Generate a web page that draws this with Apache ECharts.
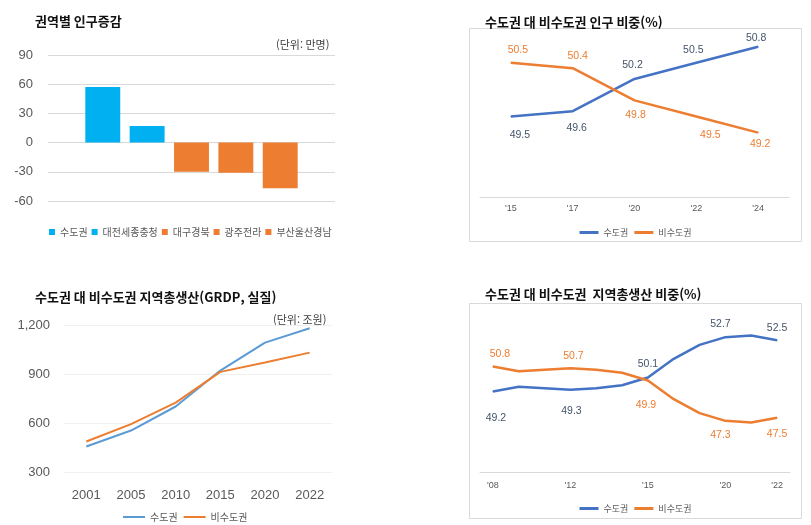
<!DOCTYPE html>
<html lang="ko">
<head>
<meta charset="UTF-8" />
<title>수도권 대 비수도권</title>
<style>
  html, body { margin: 0; padding: 0; background: #fff; }
  .box { position: absolute; }
  #popChange { left: 0; top: 0; width: 400px; height: 255px; }
  #popShare { left: 460px; top: 0; width: 351px; height: 260px; }
  #grdp { left: 0; top: 265px; width: 400px; height: 260px; }
  #grdpShare { left: 460px; top: 265px; width: 351px; height: 260px; }
</style>
</head>
<body>
<div id="popChange" class="box"></div>
<div id="popShare" class="box"></div>
<div id="grdp" class="box"></div>
<div id="grdpShare" class="box"></div>
<script src="https://cdn.jsdelivr.net/npm/echarts@6/dist/echarts.min.js"></script>
<script>
const KR = '"Noto Sans CJK KR", sans-serif';
const NUM = '"Liberation Sans", sans-serif';
const GRAY = '#595959';
const BLUE = '#4472C4';
const ORANGE = '#ED7D31';

// 권역별 인구증감 (만명)
const regions = ['수도권', '대전세종충청', '대구경북', '광주전라', '부산울산경남'];
const popChange = [57, 17, -30, -31, -47];
const regionColors = ['#00B0F0', '#00B0F0', ORANGE, ORANGE, ORANGE];

// 수도권 대 비수도권 인구 비중(%)
const popYears = ["'15", "'17", "'20", "'22", "'24"];
const capitalPop = [49.5, 49.6, 50.2, 50.5, 50.8];
const nonCapitalPop = [50.5, 50.4, 49.8, 49.5, 49.2];

// 지역총생산 (조원)
const grdpYears = ['2001', '2005', '2010', '2015', '2020', '2022'];
const capitalGrdp = [456, 554, 701, 921, 1092, 1180];
const nonCapitalGrdp = [487, 593, 725, 913, 970, 1031];

// 지역총생산 비중(%)
const shareYears = ["'08", "'10", "'11", "'12", "'13", "'14", "'15", "'17", "'18", "'20", "'21", "'22"];
const capitalShare = [49.2, 49.5, 49.4, 49.3, 49.4, 49.6, 50.1, 51.3, 52.2, 52.7, 52.8, 52.5];
const nonCapitalShare = [50.8, 50.5, 50.6, 50.7, 50.6, 50.4, 49.9, 48.7, 47.8, 47.3, 47.2, 47.5];
const shareShown = [0, 3, 6, 9, 11];

// label nudges (label centre minus point)
const popOffBlue = [[9, 19], [4, 17], [-2, -14], [-3, -13], [-2, -9]];
const popOffOrange = [[7, -13], [5, -12], [1, 15], [14, 19], [2, 12]];
const shareOffBlue = { 0: [3, 27], 3: [1, 21], 6: [0, -13], 9: [-5, -13], 11: [0, -12] };
const shareOffOrange = { 0: [7, -12], 3: [3, -12], 6: [-2, 25], 9: [-5, 14], 11: [0, 16] };

const titleStyle = { fontFamily: KR, fontSize: 13, fontWeight: 'bold', color: '#111' };

function labelled(values, offsets, color, shown) {
  return values.map((v, i) => {
    const off = offsets[i];
    const on = shown ? shown.includes(i) : true;
    return {
      value: v,
      label: on ? { show: true, position: 'inside', offset: off, color: color,
        fontFamily: NUM, fontSize: 10.5 } : { show: false }
    };
  });
}

// ---- 1. 권역별 인구증감
const chartA = echarts.init(document.getElementById('popChange'));
chartA.setOption({
  animation: false,
  title: { text: '권역별 인구증감', left: 30, top: 10, textStyle: titleStyle },
  graphic: [{ type: 'text', left: 276, top: 39,
    style: { text: '(단위: 만명)', font: '11px ' + KR, fill: '#404040' } }],
  legend: {
    left: 44, top: 222, icon: 'rect', itemWidth: 6, itemHeight: 6, itemGap: 4,
    textStyle: { fontFamily: KR, fontSize: 10, color: GRAY }
  },
  grid: { left: 48, right: 65, top: 55, bottom: 54 },
  xAxis: {
    type: 'category', data: [''],
    axisLine: { show: false }, axisTick: { show: false }, axisLabel: { show: false }
  },
  yAxis: {
    type: 'value', min: -60, max: 90, interval: 30,
    axisLabel: { fontFamily: NUM, fontSize: 13, color: GRAY, margin: 15 },
    splitLine: { lineStyle: { color: '#D9D9D9' } }
  },
  series: regions.map((name, i) => ({
    name: name, type: 'bar', data: [popChange[i]],
    itemStyle: { color: regionColors[i] },
    barGap: '27%', barCategoryGap: '26%'
  }))
});

// ---- 2. 인구 비중
const chartB = echarts.init(document.getElementById('popShare'));
chartB.setOption({
  animation: false,
  title: { text: '수도권 대 비수도권 인구 비중(%)', left: 20, top: 11, textStyle: titleStyle },
  graphic: [{ type: 'rect', shape: { x: 9.5, y: 28.5, width: 332, height: 213 },
    style: { fill: 'none', stroke: '#D9D9D9', lineWidth: 1 } }],
  legend: {
    left: 'center', top: 223, icon: 'rect', itemWidth: 19, itemHeight: 3, itemGap: 6,
    textStyle: { fontFamily: KR, fontSize: 9, color: GRAY }
  },
  grid: { left: 20, right: 22, top: 36, bottom: 63 },
  xAxis: {
    type: 'category', data: popYears,
    axisLine: { lineStyle: { color: '#D9D9D9' } }, axisTick: { show: false },
    axisLabel: { fontFamily: NUM, fontSize: 9, color: GRAY, margin: 7 }
  },
  yAxis: { type: 'value', min: 48, max: 51, show: false, splitLine: { show: false } },
  series: [
    { name: '수도권', type: 'line', data: labelled(capitalPop, popOffBlue, '#44546A'),
      symbol: 'circle', symbolSize: 1, lineStyle: { color: BLUE, width: 2.5 }, itemStyle: { color: BLUE } },
    { name: '비수도권', type: 'line', data: labelled(nonCapitalPop, popOffOrange, ORANGE),
      symbol: 'circle', symbolSize: 1, lineStyle: { color: ORANGE, width: 2.5 }, itemStyle: { color: ORANGE } }
  ]
});

// ---- 3. 지역총생산
const chartC = echarts.init(document.getElementById('grdp'));
chartC.setOption({
  animation: false,
  title: { text: '수도권 대 비수도권 지역총생산(GRDP, 실질)', left: 30, top: 21, textStyle: titleStyle },
  graphic: [{ type: 'text', left: 273, top: 49,
    style: { text: '(단위: 조원)', font: '11px ' + KR, fill: '#404040' } }],
  legend: {
    left: 118, top: 242, icon: 'rect', itemWidth: 22, itemHeight: 2, itemGap: 6,
    textStyle: { fontFamily: KR, fontSize: 10, color: GRAY }
  },
  grid: { left: 64, right: 68, top: 60, bottom: 53 },
  xAxis: {
    type: 'category', data: grdpYears,
    axisLine: { show: false }, axisTick: { show: false },
    axisLabel: { fontFamily: NUM, fontSize: 13, color: GRAY, margin: 17 }
  },
  yAxis: {
    type: 'value', min: 300, max: 1200, interval: 300,
    axisLabel: { fontFamily: NUM, fontSize: 13, color: GRAY, margin: 14,
      formatter: v => v.toLocaleString('en-US') },
    splitLine: { lineStyle: { color: '#F0F0F0' } }
  },
  series: [
    { name: '수도권', type: 'line', data: capitalGrdp, symbol: 'none',
      lineStyle: { color: '#5B9BD5', width: 2 }, itemStyle: { color: '#5B9BD5' } },
    { name: '비수도권', type: 'line', data: nonCapitalGrdp, symbol: 'none',
      lineStyle: { color: ORANGE, width: 2 }, itemStyle: { color: ORANGE } }
  ]
});

// ---- 4. 지역총생산 비중
const chartD = echarts.init(document.getElementById('grdpShare'));
chartD.setOption({
  animation: false,
  title: { text: '수도권 대 비수도권  지역총생산 비중(%)', left: 20, top: 18, textStyle: titleStyle },
  graphic: [{ type: 'rect', shape: { x: 9.5, y: 38.5, width: 332, height: 215 },
    style: { fill: 'none', stroke: '#D9D9D9', lineWidth: 1 } }],
  legend: {
    left: 'center', top: 234, icon: 'rect', itemWidth: 19, itemHeight: 3, itemGap: 6,
    textStyle: { fontFamily: KR, fontSize: 9, color: GRAY }
  },
  grid: { left: 20, right: 21, top: 52, bottom: 53 },
  xAxis: {
    type: 'category', data: shareYears,
    axisLine: { lineStyle: { color: '#D9D9D9' } }, axisTick: { show: false },
    axisLabel: { fontFamily: NUM, fontSize: 9, color: GRAY, margin: 9,
      interval: i => shareShown.includes(i) }
  },
  yAxis: { type: 'value', min: 44, max: 54, show: false, splitLine: { show: false } },
  series: [
    { name: '수도권', type: 'line', data: labelled(capitalShare, shareOffBlue, '#44546A', shareShown),
      symbol: 'circle', symbolSize: 1, lineStyle: { color: BLUE, width: 2.5 }, itemStyle: { color: BLUE } },
    { name: '비수도권', type: 'line', data: labelled(nonCapitalShare, shareOffOrange, ORANGE, shareShown),
      symbol: 'circle', symbolSize: 1, lineStyle: { color: ORANGE, width: 2.5 }, itemStyle: { color: ORANGE } }
  ]
});
</script>
</body>
</html>
